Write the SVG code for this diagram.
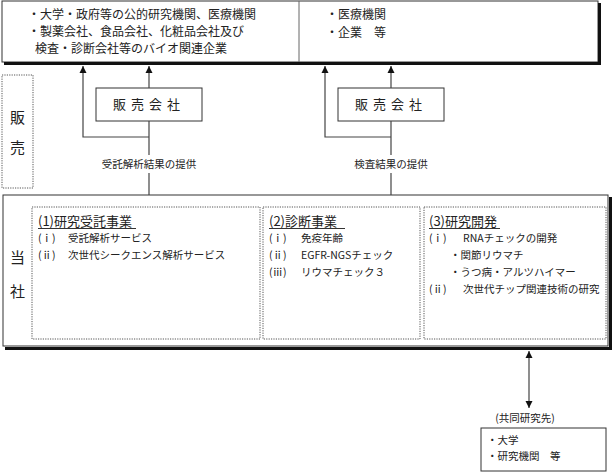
<svg xmlns="http://www.w3.org/2000/svg" width="613" height="472" viewBox="0 0 613 472">
<style>
text{font-family:"Noto Sans CJK JP","Noto Sans",sans-serif;fill:#222}
.t12{font-size:12px}
.t11{font-size:10.5px}
.h{font-size:13px}
.side{font-size:15px}
.box{fill:#fff;stroke:#333;stroke-width:1}
.dot{fill:none;stroke:#555;stroke-width:1;stroke-dasharray:1.2 1.2}
.ln{fill:none;stroke:#444;stroke-width:1.2}
.sh{stroke:#111;stroke-width:3;fill:none}
</style>
<defs>
<marker id="ah" viewBox="0 0 10 10" refX="10" refY="5" markerWidth="7" markerHeight="8" markerUnits="userSpaceOnUse" orient="auto-start-reverse">
<path d="M0,0 L10,5 L0,10 Z" fill="#111"/>
</marker>
</defs>

<g id="customers">
<rect class="box" x="2" y="1" width="596" height="61"/>
<path class="sh" d="M4 63.5 H599.5 V3"/>
<line x1="299" y1="1" x2="299" y2="62" stroke="#666" stroke-width="1"/>
<text class="t12" x="28" y="19">・大学・政府等の公的研究機関、医療機関</text>
<text class="t12" x="28" y="36">・製薬会社、食品会社、化粧品会社及び</text>
<text class="t12" x="35" y="53">検査・診断会社等のバイオ関連企業</text>
<text class="t12" x="326" y="19">・医療機関</text>
<text class="t12" x="326" y="37">・企業　等</text>
</g>

<g id="sales-label">
<rect class="dot" x="2" y="75" width="31" height="113"/>
<text class="side" x="17.5" y="123" text-anchor="middle">販</text>
<text class="side" x="17.5" y="153" text-anchor="middle">売</text>
</g>

<g id="sales1">
<rect class="box" x="96" y="88" width="106" height="33"/>
<text class="h" x="149" y="109" text-anchor="middle" letter-spacing="5">販売会社</text>
</g>
<g id="sales2">
<rect class="box" x="338" y="88" width="106" height="33"/>
<text class="h" x="391" y="109" text-anchor="middle" letter-spacing="5">販売会社</text>
</g>

<g id="company">
<rect class="box" x="3" y="195" width="605" height="151"/>
<path class="sh" d="M5 348.5 H610.5 V197"/>
<text class="side" x="17.5" y="263" text-anchor="middle">当</text>
<text class="side" x="17.5" y="297" text-anchor="middle">社</text>
</g>

<g id="biz1">
<rect class="dot" x="32" y="207" width="228" height="132"/>
<text class="h" x="38" y="226">(1)研究受託事業</text>
<line x1="38" y1="228.5" x2="136" y2="228.5" stroke="#333" stroke-width="1"/>
<text class="t11" x="38" y="242">(ⅰ)</text>
<text class="t11" x="68" y="242">受託解析サービス</text>
<text class="t11" x="38" y="259">(ⅱ)</text>
<text class="t11" x="68" y="259">次世代シークエンス解析サービス</text>
</g>

<g id="biz2">
<rect class="dot" x="263" y="207" width="157" height="132"/>
<text class="h" x="269" y="226">(2)診断事業</text>
<line x1="269" y1="228.5" x2="345" y2="228.5" stroke="#333" stroke-width="1"/>
<text class="t11" x="269" y="242">(ⅰ)</text>
<text class="t11" x="301" y="242">免疫年齢</text>
<text class="t11" x="269" y="259">(ⅱ)</text>
<text class="t11" x="301" y="259">EGFR-NGSチェック</text>
<text class="t11" x="269" y="276">(ⅲ)</text>
<text class="t11" x="301" y="276">リウマチェック３</text>
</g>

<g id="biz3">
<rect class="dot" x="424" y="207" width="182" height="132"/>
<text class="h" x="429" y="226">(3)研究開発</text>
<line x1="429" y1="228.5" x2="500" y2="228.5" stroke="#333" stroke-width="1"/>
<text class="t11" x="429" y="242">(ⅰ)</text>
<text class="t11" x="463" y="242">RNAチェックの開発</text>
<text class="t11" x="450" y="259">・関節リウマチ</text>
<text class="t11" x="450" y="276">・うつ病・アルツハイマー</text>
<text class="t11" x="429" y="293">(ⅱ)</text>
<text class="t11" x="463" y="293">次世代チップ関連技術の研究</text>
</g>

<g id="partners">
<text class="t11" x="525" y="422" text-anchor="middle">(共同研究先)</text>
<rect class="box" x="481" y="428" width="125" height="43"/>
<text class="t11" x="487" y="444">・大学</text>
<text class="t11" x="487" y="460">・研究機関　等</text>
</g>

<g id="connectors">
<path class="ln" d="M149 88 V66" marker-end="url(#ah)"/>
<path class="ln" d="M149 121 V155"/>
<path class="ln" d="M149 173 V195"/>
<path class="ln" d="M149 137 H83 V66" marker-end="url(#ah)"/>
<text class="t11" x="149" y="168" text-anchor="middle">受託解析結果の提供</text>
<path class="ln" d="M391 88 V66" marker-end="url(#ah)"/>
<path class="ln" d="M391 121 V155"/>
<path class="ln" d="M391 173 V195"/>
<path class="ln" d="M391 137 H325 V66" marker-end="url(#ah)"/>
<text class="t11" x="391" y="168" text-anchor="middle">検査結果の提供</text>
<path class="ln" d="M529 351 V408" marker-start="url(#ah)" marker-end="url(#ah)"/>
</g>
</svg>
